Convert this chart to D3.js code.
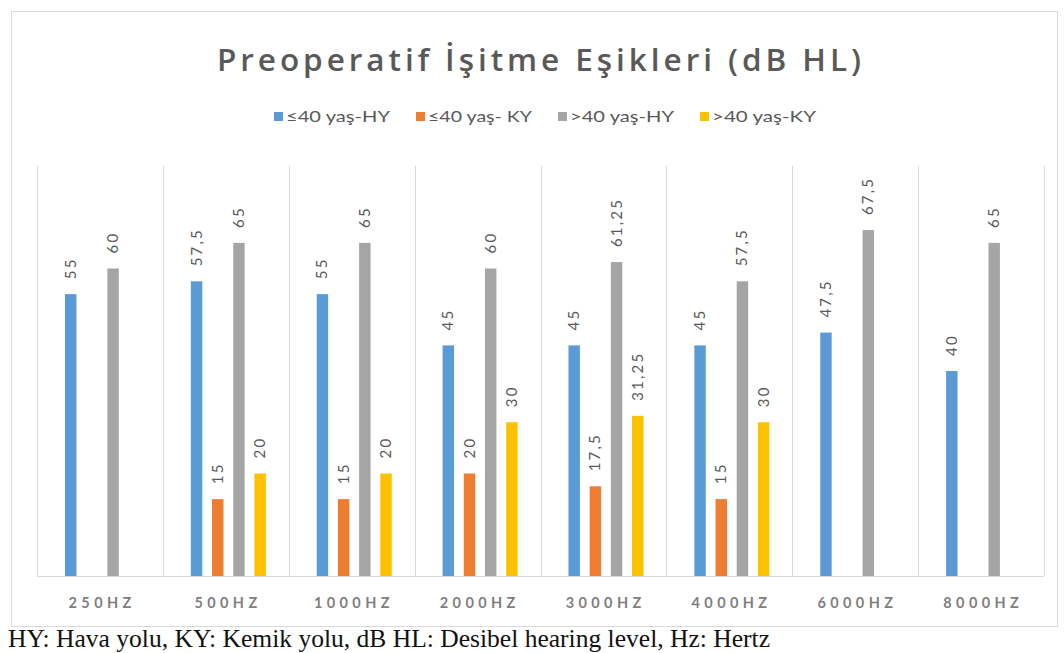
<!DOCTYPE html>
<html>
<head>
<meta charset="utf-8">
<script src="https://cdn.jsdelivr.net/npm/d3@7"></script>
<style>
  html, body { margin: 0; padding: 0; background: #fff; }
  svg { display: block; }
</style>
</head>
<body>
<svg id="chart" width="1064" height="653"></svg>
<script>
// Frequencies on the x axis
const categories = ["250HZ", "500HZ", "1000HZ", "2000HZ", "3000HZ", "4000HZ", "6000HZ", "8000HZ"];
// Series names (legend labels)
const seriesNames = ["≤40 yaş-HY", "≤40 yaş- KY", ">40 yaş-HY", ">40 yaş-KY"];
// Thresholds in dB HL; null = not measured
const under40Air  = [55, 57.5, 55, 45, 45, 45, 47.5, 40];
const under40Bone = [null, 15, 15, 20, 17.5, 15, null, null];
const over40Air   = [60, 65, 65, 60, 61.25, 57.5, 67.5, 65];
const over40Bone  = [null, 20, 20, 30, 31.25, 30, null, null];
const seriesColors = ["#5b9bd5", "#ed7d31", "#a5a5a5", "#ffc000"];

const seriesValues = [under40Air, under40Bone, over40Air, over40Bone];
const rows = categories.map((c, i) => ({
  cat: c,
  values: seriesNames.map((s, k) => ({ key: s, k, value: seriesValues[k][i] }))
}));

const svg = d3.select("#chart");
const textColor = "#595959";
const gridColor = "#d9d9d9";

// chart frame
svg.append("rect")
  .attr("x", 11.5).attr("y", 11.5)
  .attr("width", 1046).attr("height", 615)
  .attr("fill", "#fff").attr("stroke", gridColor).attr("stroke-width", 1);

// title
svg.append("text")
  .attr("x", 539).attr("y", 71)
  .attr("text-anchor", "middle")
  .attr("font-family", "'Open Sans', sans-serif")
  .attr("font-size", 31.5)
  .attr("font-weight", 600)
  .attr("fill", textColor)
  .attr("textLength", 644)
  .attr("lengthAdjust", "spacing")
  .text("Preoperatif İşitme Eşikleri (dB HL)");

// scales
const x0 = d3.scaleBand().domain(categories).range([37, 1044]).padding(0);
const x1 = d3.scaleBand().domain(seriesNames).range([0, x0.bandwidth()])
  .paddingInner(0.46).paddingOuter(1.2).align(0.55);
const y = d3.scaleLinear().domain([0, 80]).range([576, 166]);
const color = d3.scaleOrdinal().domain(seriesNames).range(seriesColors);

// category separators
const grid = svg.append("g");
grid.selectAll("line.sep")
  .data(categories.map(c => x0(c)).concat([x0.range()[1]]))
  .join("line")
  .attr("class", "sep")
  .attr("x1", d => Math.round(d) + 0.5).attr("x2", d => Math.round(d) + 0.5)
  .attr("y1", y(80)).attr("y2", y(0))
  .attr("stroke", gridColor).attr("stroke-width", 1);

// bars
const groups = svg.append("g").selectAll("g")
  .data(rows).join("g")
  .attr("transform", d => `translate(${x0(d.cat)},0)`);

groups.selectAll("rect")
  .data(d => d.values.filter(v => v.value != null))
  .join("rect")
  .attr("x", d => x1(d.key))
  .attr("width", x1.bandwidth())
  .attr("y", d => y(d.value))
  .attr("height", d => y(0) - y(d.value))
  .attr("fill", d => color(d.key));

// value labels, rotated
const fmt = v => String(v).replace(".", ",");
groups.selectAll("text")
  .data(d => d.values.filter(v => v.value != null))
  .join("text")
  .attr("transform", d => `translate(${x1(d.key) + x1.bandwidth() / 2 + 5},${y(d.value) - 15}) rotate(-90)`)
  .attr("font-family", "Lato, 'Open Sans', sans-serif")
  .attr("font-size", 15)
  .attr("letter-spacing", 2.2)
  .attr("fill", textColor)
  .text(d => fmt(d.value));

// baseline
svg.append("line")
  .attr("x1", x0.range()[0]).attr("x2", x0.range()[1])
  .attr("y1", y(0) + 0.5).attr("y2", y(0) + 0.5)
  .attr("stroke", gridColor).attr("stroke-width", 1);

// x axis labels
const xAxis = svg.append("g")
  .attr("transform", `translate(0,${y(0)})`)
  .call(d3.axisBottom(x0).tickSize(0).tickPadding(0));
xAxis.select(".domain").remove();
xAxis.selectAll("text")
  .attr("dy", 0).attr("y", 32)
  .attr("font-family", "Lato, 'Open Sans', sans-serif")
  .attr("font-size", 14.5)
  .attr("font-weight", 700)
  .attr("letter-spacing", 4.4)
  .attr("fill", "#7f7f7f")
  .attr("dx", 2.2);

// legend
const legend = svg.append("g");
const items = legend.selectAll("g").data(seriesNames).join("g");
items.append("rect")
  .attr("width", 9).attr("height", 9)
  .attr("y", 112)
  .attr("fill", d => color(d));
items.append("text")
  .attr("x", 12).attr("y", 122)
  .attr("font-family", "Lato, 'Open Sans', sans-serif")
  .attr("font-size", 16)
  .attr("fill", textColor)
  .attr("textLength", 104)
  .attr("lengthAdjust", "spacingAndGlyphs")
  .text(d => d);
// lay legend entries side by side, centred on the chart
let cursor = 0;
const offsets = [];
items.each(function () { const w = this.getBBox().width; offsets.push(cursor); cursor += w + 26; });
const total = cursor - 26;
const start = 545 - total / 2;
items.attr("transform", (d, i) => `translate(${start + offsets[i]},0)`);

// footnote
svg.append("text")
  .attr("x", 8).attr("y", 647)
  .attr("font-family", "'Liberation Serif', 'Times New Roman', serif")
  .attr("font-size", 26)
  .attr("fill", "#111")
  .attr("textLength", 762)
  .attr("lengthAdjust", "spacingAndGlyphs")
  .text("HY: Hava yolu, KY: Kemik yolu, dB HL: Desibel hearing level, Hz: Hertz");
</script>
</body>
</html>
